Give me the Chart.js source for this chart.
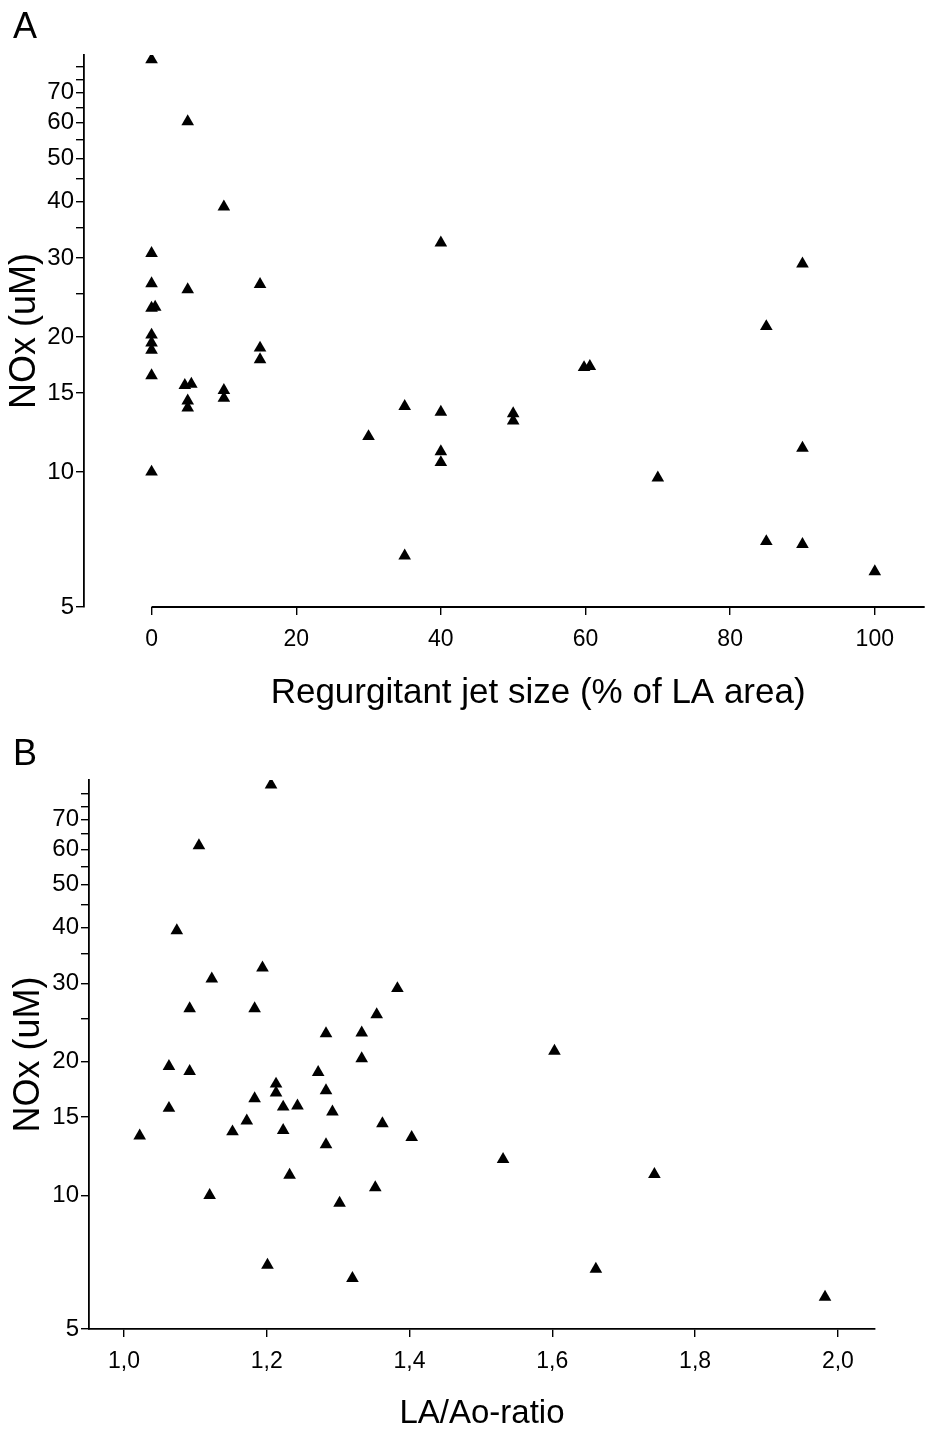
<!DOCTYPE html>
<html>
<head>
<meta charset="utf-8">
<script src="https://cdn.jsdelivr.net/npm/chart.js@4.4.0/dist/chart.umd.min.js"></script>
<style>
body { margin:0; background:#fff; width:932px; height:1433px; position:relative; overflow:hidden; font-family:"Liberation Sans", Arial, sans-serif; }
.panel { position:absolute; left:0; width:932px; }
.tag { position:absolute; left:13px; font-size:36px; line-height:1; color:#000; z-index:2; }
</style>
</head>
<body>
<div class="panel" style="top:0;height:720px"><canvas id="chartA"></canvas></div>
<div class="panel" style="top:720px;height:713px"><canvas id="chartB"></canvas></div>
<div class="tag" style="top:8px">A</div>
<div class="tag" style="top:735px">B</div>
<script>
// panel A: regurgitant jet size vs NOx
const jetSize = [0,0,0,0,0,0,0,0,0,0.5, 4.6,5.5, 5,5,5,5, 10,10,10, 15,15,15, 30, 35,35, 40,40,40,40, 50,50, 59.8,60.6, 70, 85,85, 90,90,90, 100];
const noxA = [83,30.7,26.3,23.2,20.2,19.4,18.7,16.4,10.0,23.3, 15.6,15.7, 60.4,25.5,14.4,13.9, 39.0,15.2,14.6, 26.2,18.9,17.8, 12.0, 14.0,6.5, 32.4,13.6,11.1,10.5, 13.5,13.0, 17.1,17.2, 9.7, 21.1,7.0, 29.1,11.3,6.9, 6.0];

// panel B: LA/Ao ratio vs NOx
const laAo = [1.206,1.105,1.074,1.194,1.123,1.092,1.183, 1.063,1.092,1.063,1.022,1.12,1.152,1.172,1.183,1.213,1.213,1.223,1.243,1.223,1.232,1.201,1.272, 1.383,1.354,1.283,1.333,1.333,1.283,1.292,1.362,1.403,1.283,1.531,1.603,1.352,1.302, 1.743,1.661,1.982,1.32];
const noxB = [83.9,61.2,39.4,32.5,30.7,26.3,26.3, 19.5,19.0,15.7,13.6,10.0,13.9,14.7,16.5,17.8,17.0,15.8,15.9,14.0,11.1,6.96,18.9, 29.2,25.5,23.1,23.2,20.3,17.2,15.4,14.5,13.5,13.0,12.05,21.1,10.4,9.6, 11.15,6.82,5.9,6.5];

const xTicksA = [0, 20, 40, 60, 80, 100];
const xTicksB = [1.0, 1.2, 1.4, 1.6, 1.8, 2.0];
const yTicks = [5, 10, 15, 20, 30, 40, 50, 60, 70];
const yMinorTicks = [25, 35, 45, 55, 65, 75, 80];

const FONT = '"Liberation Sans", Arial, sans-serif';
const titleA = 'Regurgitant jet size (% of LA area)';

// x axis of panel A starts at 0, not at the y axis; its title is centred on that line
const xLineFromZero = {
    id: 'xLineFromZero',
    afterDraw(chart) {
        const ctx = chart.ctx;
        const area = chart.chartArea;
        const x0 = chart.scales.x.getPixelForValue(0);
        ctx.save();
        ctx.strokeStyle = '#000';
        ctx.lineWidth = 1.8;
        ctx.beginPath();
        ctx.moveTo(x0, area.bottom);
        ctx.lineTo(area.right, area.bottom);
        ctx.stroke();
        ctx.fillStyle = '#000';
        ctx.font = '35px ' + FONT;
        ctx.textAlign = 'center';
        ctx.textBaseline = 'middle';
        ctx.fillText(titleA, (x0 + area.right) / 2, chart.height - 27);
        ctx.restore();
    }
};

function yAxis(yMax, width, titlePad) {
    return {
        type: 'logarithmic',
        min: 5,
        max: yMax,
        afterBuildTicks: s => { s.ticks = yTicks.concat(yMinorTicks).map(v => ({ value: v })); },
        afterFit: s => { s.width = width; },
        ticks: {
            autoSkip: false,
            color: '#000',
            padding: 2,
            font: { family: FONT, size: 24 },
            callback: v => yTicks.includes(v) ? String(v) : ''
        },
        grid: { drawOnChartArea: false, drawTicks: true, tickLength: 8, color: '#000', lineWidth: 1.4 },
        border: { display: true, color: '#000', width: 1.8 },
        title: { display: true, text: 'NOx (uM)', color: '#000', font: { family: FONT, size: 36, lineHeight: 1 }, padding: { top: titlePad, bottom: 0 } }
    };
}

function xAxis(min, max, ticks, height, label, titleSize, titlePad, fmt, border) {
    return {
        type: 'linear',
        min: min,
        max: max,
        afterBuildTicks: s => { s.ticks = ticks.map(v => ({ value: v })); },
        afterFit: s => { s.height = height; },
        ticks: { autoSkip: false, color: '#000', padding: 11, font: { family: FONT, size: 23 }, callback: fmt },
        grid: { drawOnChartArea: false, drawTicks: true, tickLength: 8, color: '#000', lineWidth: 1.4 },
        border: { display: border, color: '#000', width: 1.8 },
        title: { display: label !== '', text: label, color: '#000', font: { family: FONT, size: titleSize, lineHeight: 1 }, padding: { top: 0, bottom: titlePad } }
    };
}

function scatter(id, xs, ys, scales, padding, plugins) {
    return new Chart(document.getElementById(id), {
        type: 'scatter',
        data: {
            datasets: [{
                data: xs.map((x, i) => ({ x: x, y: ys[i] })),
                pointStyle: 'triangle',
                pointRadius: 7.3,
                pointHoverRadius: 7.3,
                backgroundColor: '#000',
                borderColor: '#000',
                borderWidth: 0
            }]
        },
        options: {
            responsive: true,
            maintainAspectRatio: false,
            animation: false,
            devicePixelRatio: 1,
            layout: { padding: padding },
            plugins: { legend: { display: false }, tooltip: { enabled: false } },
            scales: scales
        },
        plugins: plugins
    });
}

scatter('chartA', jetSize, noxA, {
    x: xAxis(-9.34, 106.9, xTicksA, 113, '', 35, 10, v => String(v), false),
    y: yAxis(85, 84, 7)
}, { top: 55, right: 2, left: 0, bottom: 0 }, [xLineFromZero]);

scatter('chartB', laAo, noxB, {
    x: xAxis(0.951, 2.052, xTicksB, 104, 'LA/Ao-ratio', 33, 3, v => v.toFixed(1).replace('.', ','), true),
    y: yAxis(86, 89, 11)
}, { top: 60, right: 57, left: 0, bottom: 0 }, []);
</script>
</body>
</html>
